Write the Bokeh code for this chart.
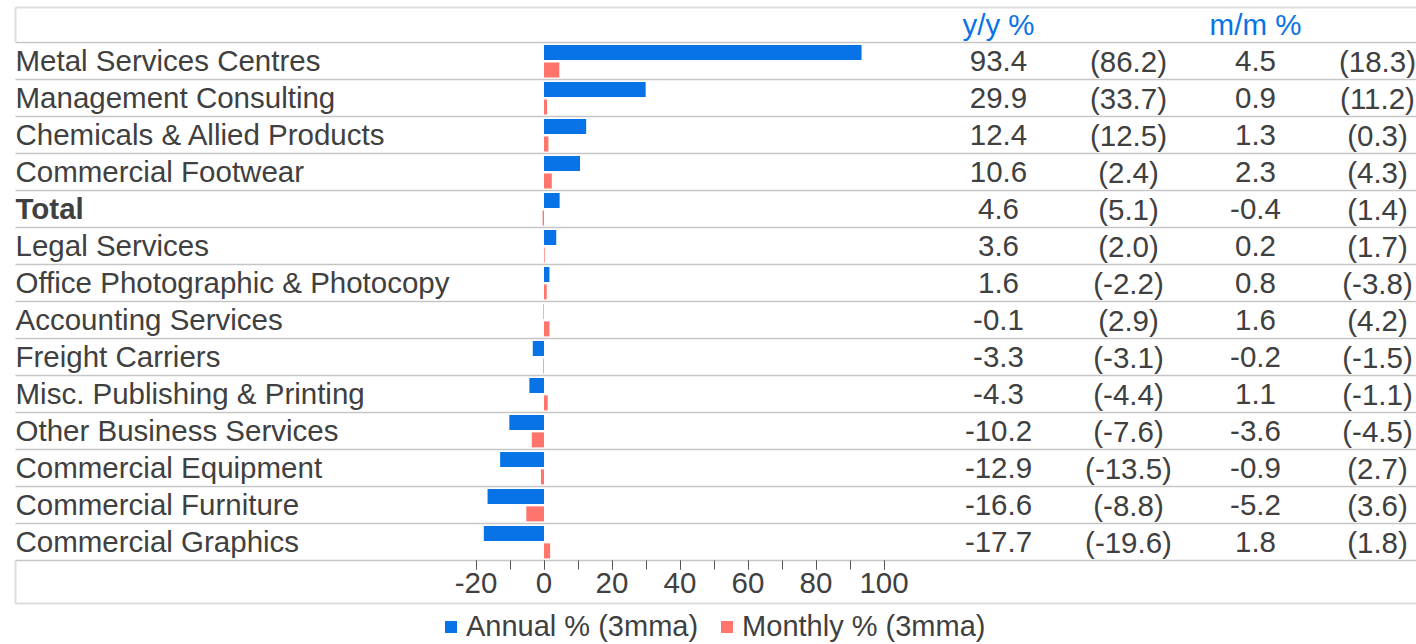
from bokeh.plotting import figure
from bokeh.models import (Range1d, LinearAxis, FixedTicker, Legend, LegendItem,
                          ColumnDataSource, CustomJSTickFormatter)
from bokeh.transform import dodge
from bokeh.core.properties import value
from bokeh.embed import file_html
from bokeh.resources import INLINE

# ---- data -----------------------------------------------------------------
categories = [
    "Metal Services Centres",
    "Management Consulting",
    "Chemicals & Allied Products",
    "Commercial Footwear",
    "Total",
    "Legal Services",
    "Office Photographic & Photocopy",
    "Accounting Services",
    "Freight Carriers",
    "Misc. Publishing & Printing",
    "Other Business Services",
    "Commercial Equipment",
    "Commercial Furniture",
    "Commercial Graphics",
]
annual = [93.4, 29.9, 12.4, 10.6, 4.6, 3.6, 1.6, -0.1, -3.3, -4.3, -10.2, -12.9, -16.6, -17.7]
annual_prior = [86.2, 33.7, 12.5, 2.4, 5.1, 2.0, -2.2, 2.9, -3.1, -4.4, -7.6, -13.5, -8.8, -19.6]
monthly = [4.5, 0.9, 1.3, 2.3, -0.4, 0.2, 0.8, 1.6, -0.2, 1.1, -3.6, -0.9, -5.2, 1.8]
monthly_prior = [18.3, 11.2, 0.3, 4.3, 1.4, 1.7, -3.8, 4.2, -1.5, -1.1, -4.5, 2.7, 3.6, 1.8]

x_ticks = [-20, 0, 20, 40, 60, 80, 100]
x_minor_ticks = [-20, -10, 0, 10, 20, 30, 40, 50, 60, 70, 80, 90, 100]
col_headers = ["y/y %", "m/m %"]
series_names = ["Annual % (3mma)", "Monthly % (3mma)"]

# ---- layout / style ---------------------------------------------------------
W, H = 1416, 644
ZERO_PX = 543.5       # pixel column of the zero line
PX_PER_UNIT = 3.4     # bar scale
ROW_H = 37
FIRST_ROW_PX = 60.5

FONT = "Liberation Sans"
TEXT = "#404040"
BLUE = "#0873E6"
RED = "#FF756B"
RULE = "#c6c6c6"
RULE_LIGHT = "#dedede"
FS = "29.5px"


def xd(px):
    return (px - ZERO_PX) / PX_PER_UNIT


def yd(py):
    return (py - FIRST_ROW_PX) / ROW_H


n = len(categories)
rows = list(range(n))

src = ColumnDataSource(dict(
    cat=categories,
    row=rows,
    annual=annual,
    monthly=monthly,
    style=["bold" if c == "Total" else "normal" for c in categories],
    a_txt=["%.1f" % v for v in annual],
    ap_txt=["(%.1f)" % v for v in annual_prior],
    m_txt=["%.1f" % v for v in monthly],
    mp_txt=["(%.1f)" % v for v in monthly_prior],
))

p = figure(
    width=W, height=H,
    x_range=Range1d(xd(0), xd(W)),
    y_range=Range1d(yd(H), yd(0)),
    output_backend="svg", toolbar_location=None,
    x_axis_location=None, y_axis_location=None,
    min_border=0, outline_line_color=None,
    background_fill_color="white", border_fill_color="white",
)
p.grid.visible = False

# table rules
rule_y = [r - 0.5 for r in rows] + [n - 0.5]
p.segment(x0=xd(15), x1=xd(W), y0=rule_y, y1=rule_y, line_color=RULE, line_width=1.5)
p.segment(x0=[xd(15)] * 2, x1=[xd(W)] * 2, y0=[yd(7), yd(603)], y1=[yd(7), yd(603)],
          line_color=RULE_LIGHT, line_width=2)
p.segment(x0=[xd(15)] * 2, x1=[xd(15)] * 2, y0=[yd(7), n - 0.5], y1=[-0.5, yd(603)],
          line_color=RULE_LIGHT, line_width=2)

# bars
r_annual = p.hbar(y=dodge("row", -0.23), left=0, right="annual", height=15 / ROW_H,
                  source=src, fill_color=BLUE, line_color=None)
r_monthly = p.hbar(y=dodge("row", 0.24), left=0, right="monthly", height=15 / ROW_H,
                   source=src, fill_color=RED, line_color=None)

# row labels
p.text(x=xd(15), y=dodge("row", -0.02), text="cat", source=src, text_font=value(FONT),
       text_font_size=FS, text_color=TEXT, text_align="left", text_baseline="middle",
       text_font_style="style")

# value columns
for px, col in [(998, "a_txt"), (1128, "ap_txt"), (1255, "m_txt"), (1377, "mp_txt")]:
    p.text(x=xd(px), y="row", text=col, source=src, text_font=value(FONT),
           text_font_size=FS, text_color=TEXT, text_align="center", text_baseline="middle")

# column headers
p.text(x=[xd(998), xd(1255)], y=[-1, -1], text=col_headers, text_font=value(FONT),
       text_font_size=FS, text_color=BLUE, text_align="center", text_baseline="middle")

# value axis under the bar column
ax = LinearAxis(
    ticker=FixedTicker(ticks=x_ticks, minor_ticks=x_minor_ticks),
    formatter=CustomJSTickFormatter(code="return String(tick);"),
    fixed_location=n - 0.5,
    axis_line_color=None,
    major_tick_in=0, major_tick_out=9, minor_tick_in=0, minor_tick_out=9,
    major_tick_line_color="#555555", minor_tick_line_color="#555555",
    major_label_text_font=FONT, major_label_text_font_size=FS,
    major_label_text_color=TEXT, major_label_standoff=3,
)
p.add_layout(ax, "below")

legend = Legend(
    items=[LegendItem(label=series_names[0], renderers=[r_annual]),
           LegendItem(label=series_names[1], renderers=[r_monthly])],
    orientation="horizontal", location=(443, 1),
    label_text_font=FONT, label_text_font_size="29px", label_text_color=TEXT,
    glyph_width=15, glyph_height=15, label_standoff=8, spacing=21,
    padding=0, margin=0, border_line_color=None, background_fill_alpha=0,
)
p.add_layout(legend)

open("out.html", "w").write(file_html(p, INLINE))
